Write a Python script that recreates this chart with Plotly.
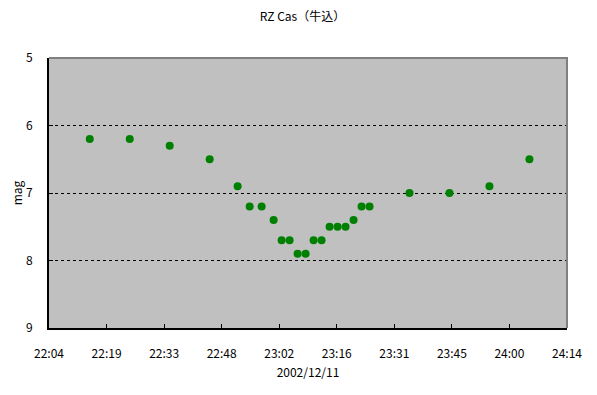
import plotly.graph_objects as go

# Observation times (local, 2002/12/11) and magnitudes
times = ["22:15", "22:25", "22:35", "22:45", "22:52", "22:55", "22:58", "23:01",
         "23:03", "23:05", "23:07", "23:09", "23:11", "23:13", "23:15", "23:17",
         "23:19", "23:21", "23:23", "23:25", "23:35", "23:45", "23:55", "24:05"]
mags = [6.2, 6.2, 6.3, 6.5, 6.9, 7.2, 7.2, 7.4,
        7.7, 7.7, 7.9, 7.9, 7.7, 7.7, 7.5, 7.5,
        7.5, 7.4, 7.2, 7.2, 7.0, 7.0, 6.9, 6.5]

# x-axis ticks: every 0.01 day from 0.92 to 1.01 day
tick_days = [0.92, 0.93, 0.94, 0.95, 0.96, 0.97, 0.98, 0.99, 1.00, 1.01]
tick_labels = ["22:04", "22:19", "22:33", "22:48", "23:02", "23:16",
               "23:31", "23:45", "24:00", "24:14"]
y_ticks = [5, 6, 7, 8, 9]


def to_min(t):
    h, m = t.split(":")
    return int(h) * 60 + int(m)


x_vals = [to_min(t) for t in times]
tick_vals = [d * 1440 for d in tick_days]

font = "Noto Sans CJK JP, Noto Sans, sans-serif"

fig = go.Figure()
fig.add_trace(go.Scatter(
    x=x_vals, y=mags, mode="markers",
    marker=dict(color="#008000", size=8, symbol="circle", line=dict(width=0)),
    showlegend=False,
))

# page has an 8px body margin, so the figure is offset by 8px
fig.update_layout(
    width=589, height=387,
    margin=dict(l=41, r=30, t=50, b=67, autoexpand=False),
    paper_bgcolor="white",
    plot_bgcolor="#C0C0C0",
    font=dict(family=font, size=12, color="black"),
    title=dict(text="RZ Cas（牛込）", x=0.5, xanchor="center", y=0.977, yanchor="middle",
               font=dict(family=font, size=12, color="black")),
    xaxis=dict(
        range=[tick_vals[0], tick_vals[-1]], automargin=False,
        tickmode="array", tickvals=tick_vals, ticktext=tick_labels,
        ticks="inside", ticklen=4, tickcolor="black", tickwidth=1,
        showgrid=False, zeroline=False,
        showline=True, linecolor="black", linewidth=2,
        ticklabelstandoff=14,
        title=dict(text="2002/12/11", standoff=8, font=dict(family=font, size=12)),
    ),
    yaxis=dict(
        range=[9, 5], tickmode="array", tickvals=y_ticks, automargin=False,
        ticks="inside", ticklen=4, tickcolor="black", tickwidth=1,
        showgrid=True, gridcolor="black", griddash="3px,3px", gridwidth=1,
        zeroline=False,
        showline=True, linecolor="black", linewidth=2,
        ticklabelstandoff=12,
        title=dict(text="mag", standoff=4, font=dict(family=font, size=12)),
    ),
    shapes=[dict(type="path", xref="paper", yref="paper",
                 path="M 0,1 L 1,1 L 1,0", line=dict(color="#808080", width=2),
                 layer="above")],
)

fig.write_html("out.html")
